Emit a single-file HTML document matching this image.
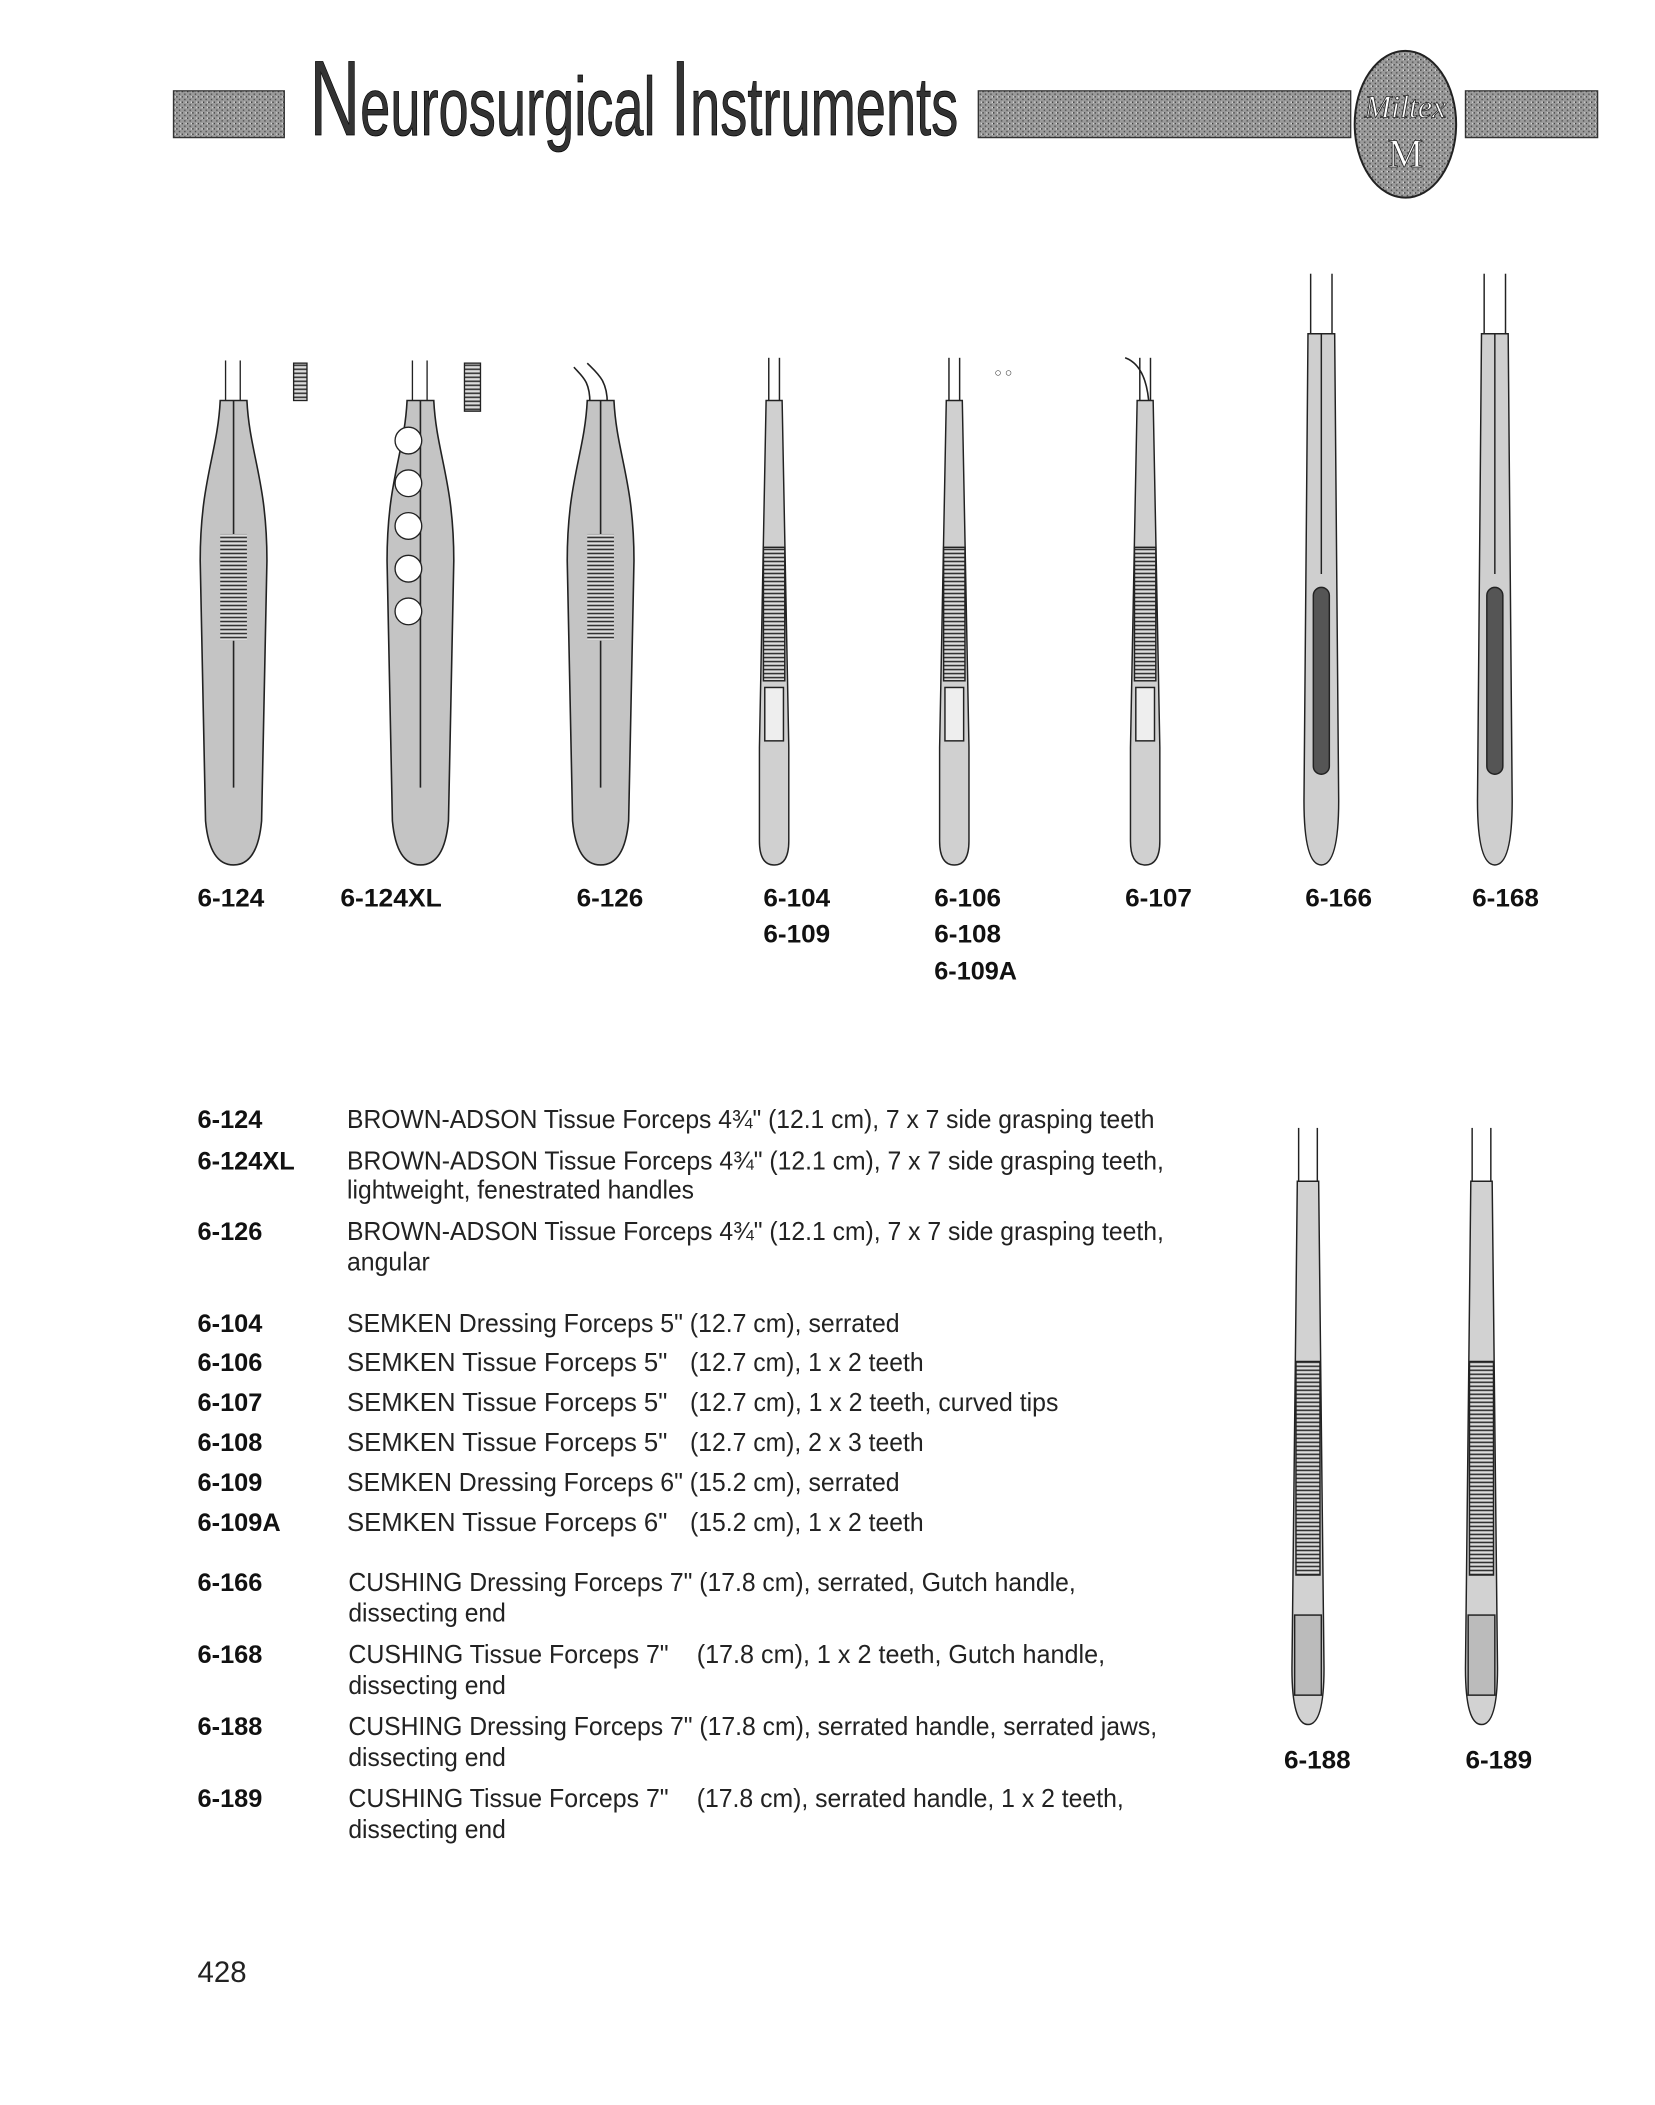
<!DOCTYPE html>
<html><head><meta charset="utf-8"><style>html,body{margin:0;padding:0;background:#fff}svg{display:block}</style></head>
<body>
<svg width="1655" height="2105" viewBox="0 0 1240 1577" xmlns="http://www.w3.org/2000/svg" font-family="Liberation Sans, sans-serif">
<defs>
<pattern id="ser" width="4" height="3" patternUnits="userSpaceOnUse"><rect width="4" height="3" fill="#ddd"/><rect width="4" height="1.2" fill="#333"/></pattern>
<pattern id="grain" width="4" height="4" patternUnits="userSpaceOnUse"><rect width="4" height="4" fill="#9a9a9a"/><rect width="1" height="1" fill="#333"/><rect x="2" y="2" width="1" height="1" fill="#444"/><rect x="3" y="0" width="1" height="1" fill="#ddd"/></pattern>
<g id="adsonbody" stroke="#222" stroke-width="1.2">
<path d="M-10,300 L10,300 C12,340 25,360 25,420 L21,615 Q18,648 0,648 Q-18,648 -21,615 L-25,420 C-25,360 -12,340 -10,300Z" fill="#c4c4c4"/>
<line x1="0" y1="300" x2="0" y2="590"/>
</g>
<g id="slim" stroke="#222" stroke-width="1.1">
<line x1="-4" y1="268" x2="-4" y2="300"/><line x1="4" y1="268" x2="4" y2="300"/>
<path d="M-6,300 L6,300 L11,560 L11,630 Q11,648 0,648 Q-11,648 -11,630 L-11,560Z" fill="#d0d0d0"/>
<rect x="-8" y="410" width="16" height="100" fill="url(#ser)"/>
<rect x="-7" y="515" width="14" height="40" fill="#eee"/>
</g>
<g id="long" stroke="#222" stroke-width="1.1">
<line x1="-8" y1="205" x2="-8" y2="250"/><line x1="8" y1="205" x2="8" y2="250"/>
<path d="M-10,250 L10,250 L13,600 Q13,648 0,648 Q-13,648 -13,600Z" fill="#cfcfcf"/>
<rect x="-6" y="440" width="12" height="140" rx="6" fill="#555"/>
<line x1="0" y1="250" x2="0" y2="430"/>
</g>
<g id="low" stroke="#222" stroke-width="1.1">
<line x1="-7" y1="845" x2="-7" y2="885"/><line x1="7" y1="845" x2="7" y2="885"/>
<path d="M-8,885 L8,885 L12,1250 Q12,1292 0,1292 Q-12,1292 -12,1250Z" fill="#d2d2d2"/>
<rect x="-9" y="1020" width="18" height="160" fill="url(#ser)"/>
<rect x="-10" y="1210" width="20" height="60" fill="#bbb"/>
</g>
</defs>

<!-- header -->
<rect x="130" y="68" width="83" height="35" fill="url(#grain)" stroke="#333"/>
<text x="232" y="101" font-size="62" textLength="486" lengthAdjust="spacingAndGlyphs" fill="#333" stroke="#000" stroke-width="0.6"><tspan font-size="80">N</tspan>eurosurgical <tspan font-size="80">I</tspan>nstruments</text>
<rect x="733" y="68" width="279" height="35" fill="url(#grain)" stroke="#333"/>
<ellipse cx="1053" cy="93" rx="38" ry="55" fill="url(#grain)" stroke="#222" stroke-width="1.5"/>
<text x="1053" y="88" font-size="24" font-style="italic" text-anchor="middle" fill="#fff" stroke="#222" stroke-width="0.6" font-family="Liberation Serif, serif">Miltex</text>
<text x="1053" y="125" font-size="30" text-anchor="middle" fill="#fff" stroke="#222" stroke-width="0.6" font-family="Liberation Serif, serif">M</text>
<rect x="1098" y="68" width="99" height="35" fill="url(#grain)" stroke="#333"/>

<!-- instruments row -->
<g transform="translate(175,0)"><line x1="-6" y1="270" x2="-6" y2="302" stroke="#222"/><line x1="5" y1="270" x2="5" y2="302" stroke="#222"/><use href="#adsonbody"/><rect x="-10" y="400" width="20" height="80" fill="url(#ser)"/></g>
<rect x="220" y="272" width="10" height="28" fill="url(#ser)" stroke="#222"/>
<g transform="translate(315,0)"><line x1="-6" y1="270" x2="-6" y2="302" stroke="#222"/><line x1="5" y1="270" x2="5" y2="302" stroke="#222"/><use href="#adsonbody"/>
<g fill="#fff" stroke="#222"><circle cx="-9" cy="330" r="10"/><circle cx="-9" cy="362" r="10"/><circle cx="-9" cy="394" r="10"/><circle cx="-9" cy="426" r="10"/><circle cx="-9" cy="458" r="10"/></g></g>
<rect x="348" y="272" width="12" height="36" fill="url(#ser)" stroke="#222"/>
<g transform="translate(450,0)"><path d="M-8,302 C-8,285 -14,282 -20,275 M5,302 C5,285 -2,280 -10,272" fill="none" stroke="#222" stroke-width="1.2"/><use href="#adsonbody"/><rect x="-10" y="400" width="20" height="80" fill="url(#ser)"/></g>
<use href="#slim" transform="translate(580,0)"/>
<use href="#slim" transform="translate(715,0)"/>
<text x="745" y="282" font-size="9" fill="#333">&#9675; &#9675;</text>
<g transform="translate(858,0)"><path d="M-15,268 C-4,272 2,285 3,305" fill="none" stroke="#222" stroke-width="1.2"/><use href="#slim" transform="translate(0,0)"/></g>
<use href="#long" transform="translate(990,0)"/>
<use href="#long" transform="translate(1120,0)"/>

<g font-size="19" font-weight="bold" fill="#111">
<text x="148" y="679" textLength="50" lengthAdjust="spacingAndGlyphs">6-124</text>
<text x="255" y="679" textLength="76" lengthAdjust="spacingAndGlyphs">6-124XL</text>
<text x="432" y="679" textLength="50" lengthAdjust="spacingAndGlyphs">6-126</text>
<text x="572" y="679" textLength="50" lengthAdjust="spacingAndGlyphs">6-104</text>
<text x="572" y="706" textLength="50" lengthAdjust="spacingAndGlyphs">6-109</text>
<text x="700" y="679" textLength="50" lengthAdjust="spacingAndGlyphs">6-106</text>
<text x="700" y="706" textLength="50" lengthAdjust="spacingAndGlyphs">6-108</text>
<text x="700" y="734" textLength="62" lengthAdjust="spacingAndGlyphs">6-109A</text>
<text x="843" y="679" textLength="50" lengthAdjust="spacingAndGlyphs">6-107</text>
<text x="978" y="679" textLength="50" lengthAdjust="spacingAndGlyphs">6-166</text>
<text x="1103" y="679" textLength="50" lengthAdjust="spacingAndGlyphs">6-168</text>
<text x="962" y="1325" textLength="50" lengthAdjust="spacingAndGlyphs">6-188</text>
<text x="1098" y="1325" textLength="50" lengthAdjust="spacingAndGlyphs">6-189</text>
</g>

<use href="#low" transform="translate(980,0)"/>
<use href="#low" transform="translate(1110,0)"/>

<!-- codes -->
<g font-size="19" font-weight="bold" fill="#111">
<text x="148" y="845">6-124</text>
<text x="148" y="876">6-124XL</text>
<text x="148" y="929">6-126</text>
<text x="148" y="998">6-104</text>
<text x="148" y="1027">6-106</text>
<text x="148" y="1057">6-107</text>
<text x="148" y="1087">6-108</text>
<text x="148" y="1117">6-109</text>
<text x="148" y="1147">6-109A</text>
<text x="148" y="1192">6-166</text>
<text x="148" y="1246">6-168</text>
<text x="148" y="1300">6-188</text>
<text x="148" y="1354">6-189</text>
</g>
<g font-size="19.5" fill="#222" lengthAdjust="spacingAndGlyphs">
<text x="260" y="845" textLength="605" lengthAdjust="spacingAndGlyphs">BROWN-ADSON Tissue Forceps 4¾" (12.1 cm), 7 x 7 side grasping teeth</text>
<text x="260" y="876" textLength="612" lengthAdjust="spacingAndGlyphs">BROWN-ADSON Tissue Forceps 4¾" (12.1 cm), 7 x 7 side grasping teeth,</text>
<text x="260" y="898" textLength="260" lengthAdjust="spacingAndGlyphs">lightweight, fenestrated handles</text>
<text x="260" y="929" textLength="612" lengthAdjust="spacingAndGlyphs">BROWN-ADSON Tissue Forceps 4¾" (12.1 cm), 7 x 7 side grasping teeth,</text>
<text x="260" y="952" textLength="62" lengthAdjust="spacingAndGlyphs">angular</text>
<text x="260" y="998" textLength="414" lengthAdjust="spacingAndGlyphs">SEMKEN Dressing Forceps 5" (12.7 cm), serrated</text>
<text x="260" y="1027" textLength="240" lengthAdjust="spacingAndGlyphs">SEMKEN Tissue Forceps 5"</text><text x="517" y="1027" textLength="175" lengthAdjust="spacingAndGlyphs">(12.7 cm), 1 x 2 teeth</text>
<text x="260" y="1057" textLength="240" lengthAdjust="spacingAndGlyphs">SEMKEN Tissue Forceps 5"</text><text x="517" y="1057" textLength="276" lengthAdjust="spacingAndGlyphs">(12.7 cm), 1 x 2 teeth, curved tips</text>
<text x="260" y="1087" textLength="240" lengthAdjust="spacingAndGlyphs">SEMKEN Tissue Forceps 5"</text><text x="517" y="1087" textLength="175" lengthAdjust="spacingAndGlyphs">(12.7 cm), 2 x 3 teeth</text>
<text x="260" y="1117" textLength="414" lengthAdjust="spacingAndGlyphs">SEMKEN Dressing Forceps 6" (15.2 cm), serrated</text>
<text x="260" y="1147" textLength="240" lengthAdjust="spacingAndGlyphs">SEMKEN Tissue Forceps 6"</text><text x="517" y="1147" textLength="175" lengthAdjust="spacingAndGlyphs">(15.2 cm), 1 x 2 teeth</text>
<text x="261" y="1192" textLength="545" lengthAdjust="spacingAndGlyphs">CUSHING Dressing Forceps 7" (17.8 cm), serrated, Gutch handle,</text>
<text x="261" y="1215" textLength="118" lengthAdjust="spacingAndGlyphs">dissecting end</text>
<text x="261" y="1246" textLength="240" lengthAdjust="spacingAndGlyphs">CUSHING Tissue Forceps 7"</text><text x="522" y="1246" textLength="306" lengthAdjust="spacingAndGlyphs">(17.8 cm), 1 x 2 teeth, Gutch handle,</text>
<text x="261" y="1269" textLength="118" lengthAdjust="spacingAndGlyphs">dissecting end</text>
<text x="261" y="1300" textLength="606" lengthAdjust="spacingAndGlyphs">CUSHING Dressing Forceps 7" (17.8 cm), serrated handle, serrated jaws,</text>
<text x="261" y="1323" textLength="118" lengthAdjust="spacingAndGlyphs">dissecting end</text>
<text x="261" y="1354" textLength="240" lengthAdjust="spacingAndGlyphs">CUSHING Tissue Forceps 7"</text><text x="522" y="1354" textLength="320" lengthAdjust="spacingAndGlyphs">(17.8 cm), serrated handle, 1 x 2 teeth,</text>
<text x="261" y="1377" textLength="118" lengthAdjust="spacingAndGlyphs">dissecting end</text>
</g>
<text x="148" y="1485" font-size="22" fill="#222">428</text>
</svg>
</body></html>
